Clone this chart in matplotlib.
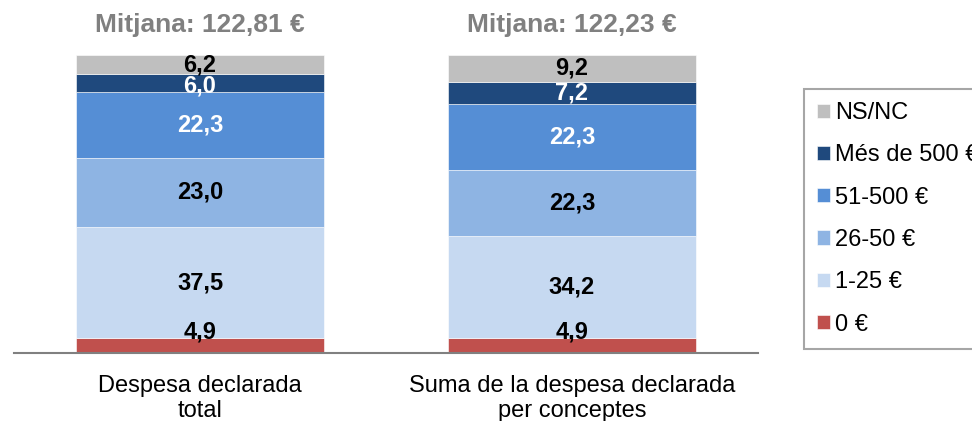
import matplotlib.pyplot as plt
import numpy as np

plt.rcParams["font.family"] = ["Liberation Sans", "DejaVu Sans"]

# two spending measures, percentage share per amount band (bottom to top)
categories = ["Despesa declarada\ntotal", "Suma de la despesa declarada\nper conceptes"]
bands = ["0 €", "1-25 €", "26-50 €", "51-500 €", "Més de 500 €", "NS/NC"]
shares_total = [4.9, 37.5, 23.0, 22.3, 6.0, 6.2]
shares_concepts = [4.9, 34.2, 22.3, 22.3, 7.2, 9.2]
means = ["Mitjana: 122,81 €", "Mitjana: 122,23 €"]

colors = ["#C0504D", "#C6D9F1", "#8EB4E3", "#558ED5", "#1F497D", "#BFBFBF"]
label_colors = ["black", "black", "black", "white", "white", "black"]

W, H = 972, 421
fig = plt.figure(figsize=(W / 100, H / 100), dpi=100)
ax = fig.add_axes([14 / W, 68 / H, 744 / W, 298 / H])

data = np.array([shares_total, shares_concepts])
x = np.arange(len(categories))
bar_w = 0.665
bottom = np.zeros(len(categories))
for i, band in enumerate(bands):
    vals = data[:, i]
    ax.bar(x, vals, bar_w, bottom=bottom, color=colors[i], label=band,
           edgecolor="white", linewidth=0.4)
    for xi, v, b in zip(x, vals, bottom):
        txt = f"{v:.1f}".replace(".", ",")
        if i == 0:
            # small bottom band: label sits on its upper edge
            ax.text(xi, b + v, txt, ha="center", va="baseline", fontsize=17,
                    fontweight="bold", color=label_colors[i])
        else:
            y = b + v / 2
            # thin band under another thin band: nudge label down a little
            if v < 6.5 and i < len(bands) - 1:
                y -= 1.2
            ax.text(xi, y, txt, ha="center", va="center", fontsize=17,
                    fontweight="bold", color=label_colors[i])
    bottom += vals

for xi, m in zip(x, means):
    ax.text(xi, 110, m, ha="center", va="center", fontsize=19,
            fontweight="bold", color="#808080", clip_on=False)

ax.set_xlim(-0.5, 1.5)
ax.set_ylim(0, 100)
ax.set_xticks(x)
ax.set_xticklabels(categories, fontsize=17, linespacing=1.15)
ax.tick_params(axis="x", length=0, pad=16)
ax.set_yticks([])
for side in ["top", "right", "left"]:
    ax.spines[side].set_visible(False)
ax.spines["bottom"].set_color("#808080")
ax.spines["bottom"].set_linewidth(1.5)

handles, labels = ax.get_legend_handles_labels()
leg = fig.legend(handles[::-1], labels[::-1], loc="upper left",
                 bbox_to_anchor=(804 / W, 1 - 89 / H), fontsize=17,
                 frameon=True, fancybox=False, borderaxespad=0,
                 handlelength=0.55, handleheight=0.55, handletextpad=0.2,
                 labelspacing=0.86, borderpad=0.55)
leg.get_frame().set_edgecolor("#909090")
leg.get_frame().set_linewidth(1.5)

fig.savefig("out.png", dpi=100)
